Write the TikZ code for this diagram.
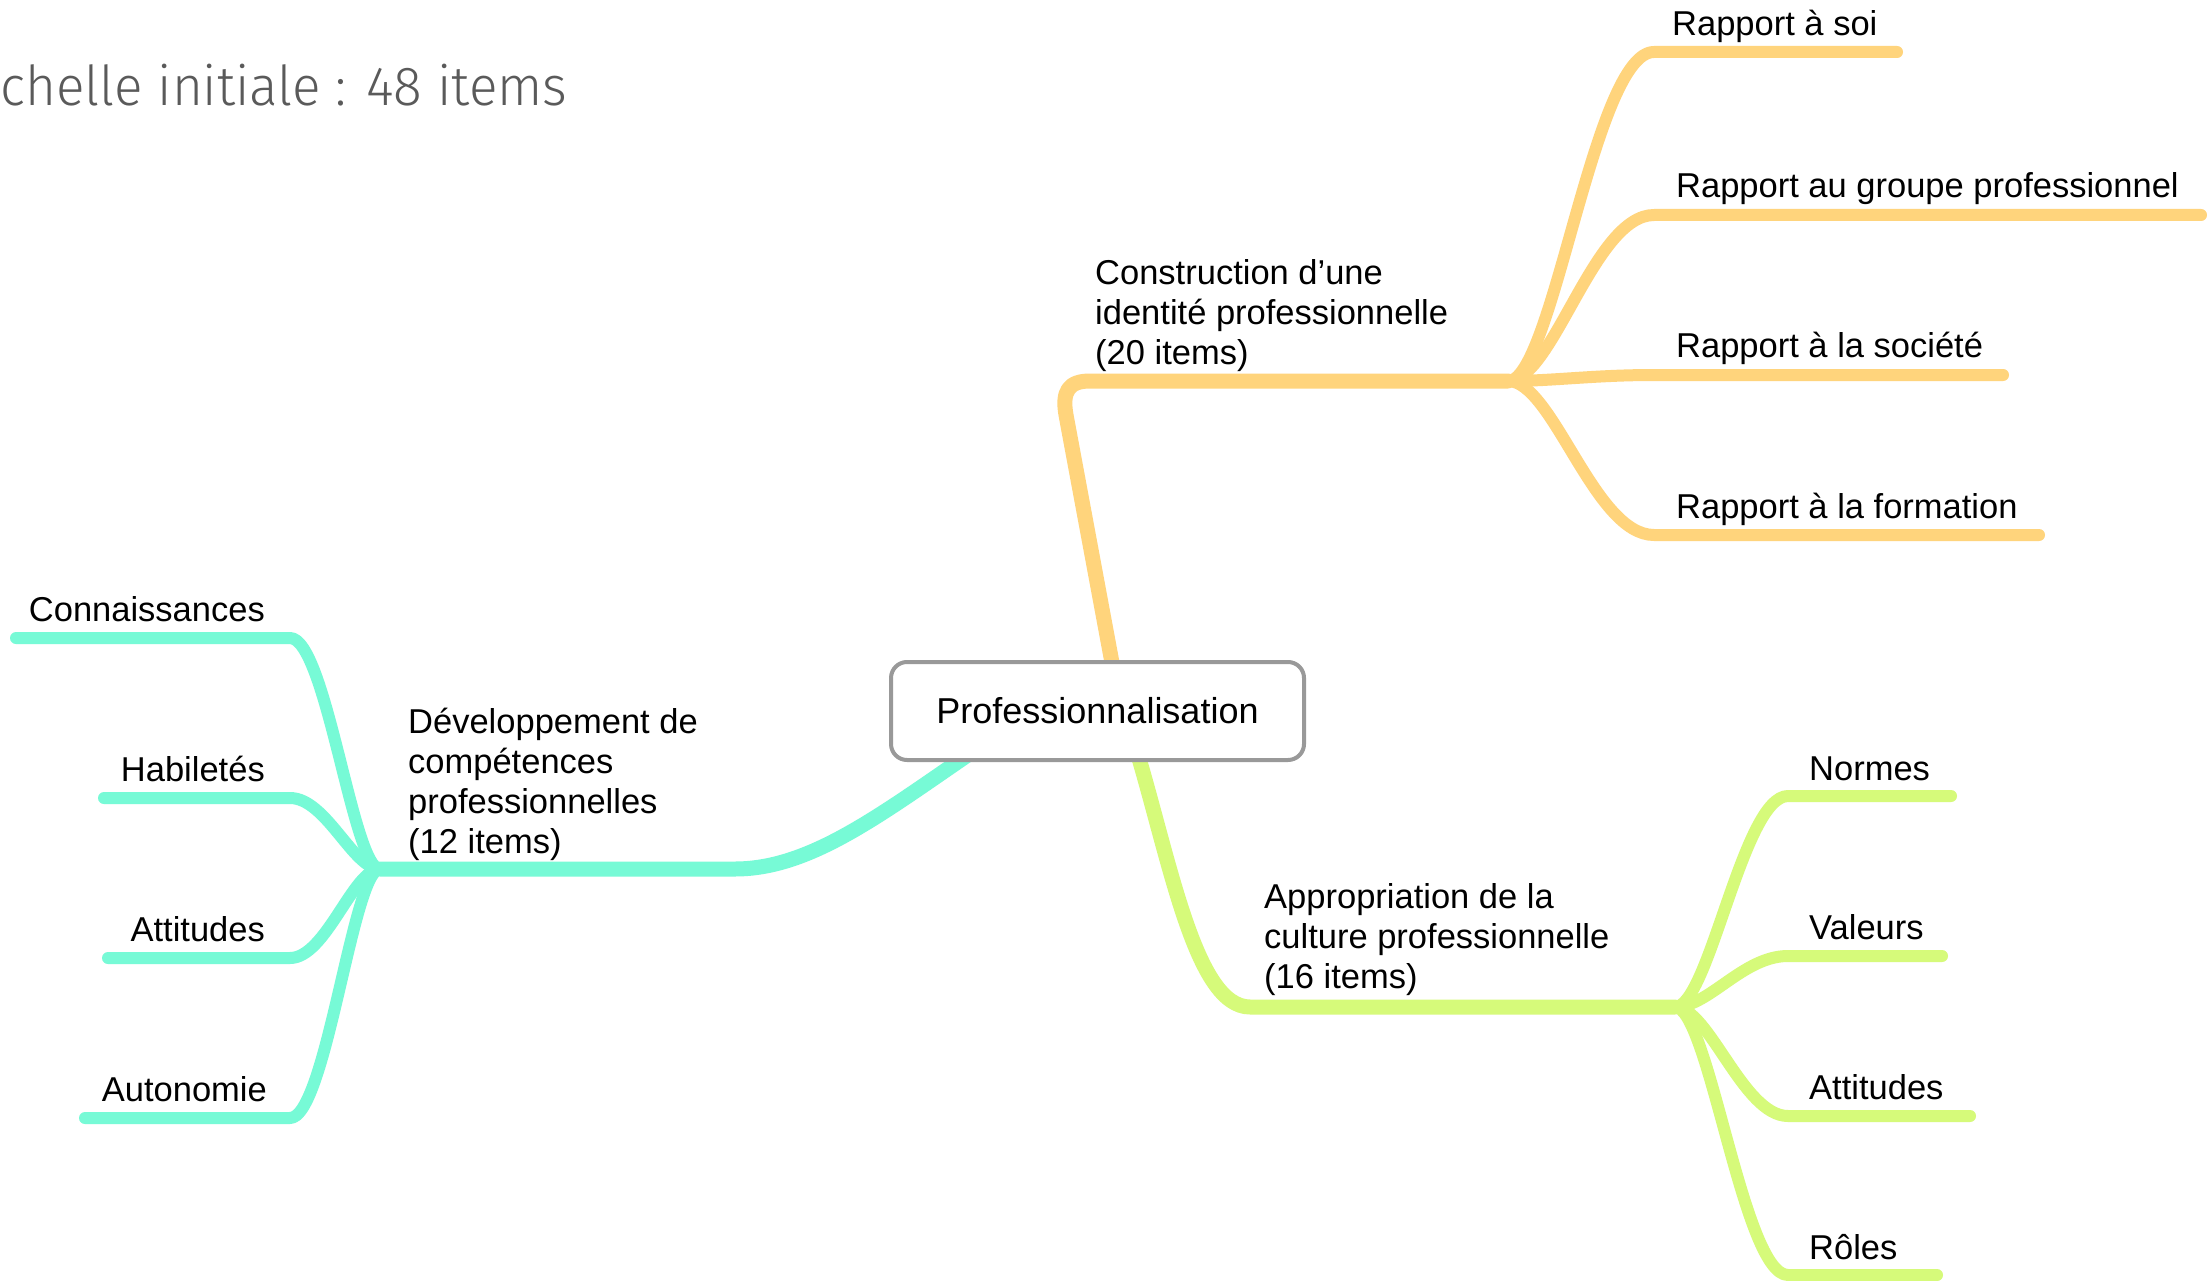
\documentclass[tikz,border=0pt]{standalone}
\usepackage{fontspec}
\setmainfont{Liberation Sans}
\newfontfamily\titlefont{Fira Sans Light}[FakeStretch=0.965]
\definecolor{orangeb}{HTML}{FFD47C}
\definecolor{mintb}{HTML}{77FAD6}
\definecolor{limeb}{HTML}{D6FA7A}
\definecolor{boxgray}{HTML}{999999}
\definecolor{titlegray}{HTML}{5A5A5A}
\begin{document}
\begin{tikzpicture}[x=1pt,y=-1pt,
  trunk/.style={line width=15pt,line cap=round,line join=round},
  twig/.style={line width=12pt,line cap=round,line join=round},
  lbl/.style={inner sep=0pt,font=\fontsize{34.5}{40}\selectfont,anchor=base west},
  lblr/.style={lbl,anchor=base east}]
\useasboundingbox (0,0) rectangle (2207,1281);
\fill[white] (0,0) rectangle (2207,1281);

\node[anchor=base west,inner sep=0pt,text=titlegray,font=\titlefont\fontsize{55}{60}\selectfont] (title) at (0,106) {chelle initiale : 48 items};

% ---------- orange branch ----------
\coordinate (po) at (1118,695);
\coordinate (vo) at (1066,415);
\coordinate (ko) at (1090,381);
\coordinate (jo) at (1508,381);
\draw[trunk,orangeb] (po) -- (vo) .. controls (1062,392) and (1068,381) .. (ko) -- (jo);
\coordinate (o1s) at (1654,52);  \coordinate (o1e) at (1897,52);
\coordinate (o2s) at (1654,215); \coordinate (o2e) at (2201,215);
\coordinate (o3s) at (1654,375); \coordinate (o3e) at (2003,375);
\coordinate (o4s) at (1654,535); \coordinate (o4e) at (2039,535);
\foreach \i in {1,2,3,4}{
  \draw[twig,orangeb] (jo) .. controls +(45,0) and +(-60,0) .. (o\i s) -- (o\i e);
}
\node[lbl] (oc) at (1095,364) {\begin{tabular}[b]{@{}l@{}}Construction d’une\\identité professionnelle\\(20 items)\end{tabular}};
\node[lbl] (o1) at (1672,36) {Rapport à soi};
\node[lbl] (o2) at (1676,198) {Rapport au groupe professionnel};
\node[lbl] (o3) at (1676,357) {Rapport à la société};
\node[lbl] (o4) at (1676,518) {Rapport à la formation};

% ---------- mint branch ----------
\coordinate (pm) at (975,750);
\coordinate (km) at (735,869);
\coordinate (jm) at (380,869);
\draw[trunk,mintb] (pm) .. controls (880,815) and (810,869) .. (km) -- (jm);
\coordinate (m1s) at (290,638);  \coordinate (m1e) at (16,638);
\coordinate (m2s) at (290,798);  \coordinate (m2e) at (104,798);
\coordinate (m3s) at (290,958);  \coordinate (m3e) at (108,958);
\coordinate (m4s) at (290,1118); \coordinate (m4e) at (85,1118);
\foreach \i in {1,2,3,4}{
  \draw[twig,mintb] (jm) .. controls +(-27,0) and +(36,0) .. (m\i s) -- (m\i e);
}
\node[lbl] (mc) at (408,853) {\begin{tabular}[b]{@{}l@{}}Développement de\\compétences\\professionnelles\\(12 items)\end{tabular}};
\node[lblr] (m1) at (265,621) {Connaissances};
\node[lblr] (m2) at (265,781) {Habiletés};
\node[lblr] (m3) at (265,941) {Attitudes};
\node[lblr] (m4) at (267,1101) {Autonomie};

% ---------- lime branch ----------
\coordinate (pl) at (1135,745);
\coordinate (kl) at (1250,1007);
\coordinate (jl) at (1675,1007);
\draw[trunk,limeb] (pl) .. controls (1170,860) and (1195,1007) .. (kl) -- (jl);
\coordinate (l1s) at (1788,796);  \coordinate (l1e) at (1951,796);
\coordinate (l2s) at (1788,956);  \coordinate (l2e) at (1942,956);
\coordinate (l3s) at (1788,1116); \coordinate (l3e) at (1970,1116);
\coordinate (l4s) at (1788,1275); \coordinate (l4e) at (1937,1275);
\foreach \i in {1,2,3,4}{
  \draw[twig,limeb] (jl) .. controls +(34,0) and +(-45,0) .. (l\i s) -- (l\i e);
}
\node[lbl] (lc) at (1264,988) {\begin{tabular}[b]{@{}l@{}}Appropriation de la\\culture professionnelle\\(16 items)\end{tabular}};
\node[lbl] (l1) at (1809,780) {Normes};
\node[lbl] (l2) at (1809,939) {Valeurs};
\node[lbl] (l3) at (1809,1099) {Attitudes};
\node[lbl] (l4) at (1809,1259) {Rôles};

% ---------- central node ----------
\node[draw=boxgray,line width=4pt,rounded corners=16pt,fill=white,minimum width=413pt,minimum height=98pt,inner sep=0pt,font=\fontsize{36}{40}\selectfont] (prof) at (1097.5,711) {Professionnalisation};
\end{tikzpicture}
\end{document}
